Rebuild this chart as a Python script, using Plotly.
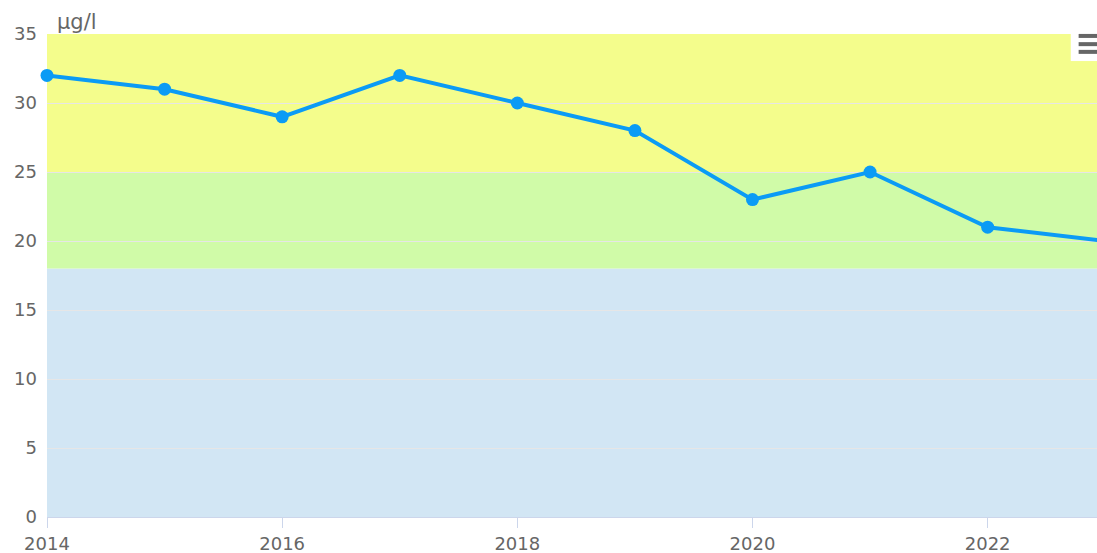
import plotly.graph_objects as go

# Dados
anos = [2014, 2015, 2016, 2017, 2018, 2019, 2020, 2021, 2022, 2023]
valores = [32, 31, 29, 32, 30, 28, 23, 25, 21, 20]

# Faixas de qualidade (limite inferior, limite superior, cor)
faixas_inicio = [0, 18, 25]
faixas_fim = [18, 25, 35]
faixas_cores = ['#d2e6f4', '#d0fba8', '#f4fd8c']

unidade = 'μg/l'

Figura = go.Figure()

Figura.add_trace(
    go.Scatter(
        x=anos,
        y=valores,
        mode='lines+markers',
        line=dict(color='#0b9bf5', width=4),
        marker=dict(color='#0b9bf5', size=13),
        cliponaxis=False,
        hoverinfo='x+y'
    )
)

# Faixas de fundo
for ini, fim, cor in zip(faixas_inicio, faixas_fim, faixas_cores):
    Figura.add_shape(
        type='rect', xref='paper', yref='y',
        x0=0, x1=1, y0=ini, y1=fim,
        fillcolor=cor, line_width=0, layer='below'
    )

# Botão de menu (caixa branca + três barras)
Figura.add_shape(
    type='rect', xref='paper', yref='paper',
    x0=0.975, x1=1.0, y0=0.944, y1=1.008,
    fillcolor='white', line_width=0, layer='above'
)
for yb in [0.996, 0.979, 0.963]:
    Figura.add_shape(
        type='line', xref='paper', yref='paper',
        x0=0.9825, x1=1.0, y0=yb, y1=yb,
        line=dict(color='#666666', width=4), layer='above'
    )

# Unidade
Figura.add_annotation(
    xref='paper', yref='paper', x=0, y=1,
    xanchor='left', yanchor='bottom', xshift=8, yshift=-2,
    text=unidade, showarrow=False,
    font=dict(size=21, color='#666666')
)

Figura.update_layout(
    width=1097,
    height=553,
    margin=dict(l=47, r=0, t=34, b=36),
    plot_bgcolor='white',
    paper_bgcolor='white',
    showlegend=False,
    font=dict(family='DejaVu Sans', size=18, color='#666666'),
    xaxis=dict(
        range=[2014, 2022.93],
        dtick=2,
        tickformat='d',
        showgrid=False,
        zeroline=False,
        showline=True,
        linecolor='#ccd6eb',
        ticks='outside',
        ticklen=10,
        tickcolor='#ccd6eb',
    ),
    yaxis=dict(
        range=[0, 35],
        dtick=5,
        showgrid=True,
        gridcolor='#e6e6e6',
        zeroline=False,
        ticks='',
        ticklabelstandoff=9,
    )
)

Figura.write_html(
    'out.html',
    config={'displayModeBar': False},
    post_script="document.body.style.margin='0';document.body.style.overflow='hidden';"
)
